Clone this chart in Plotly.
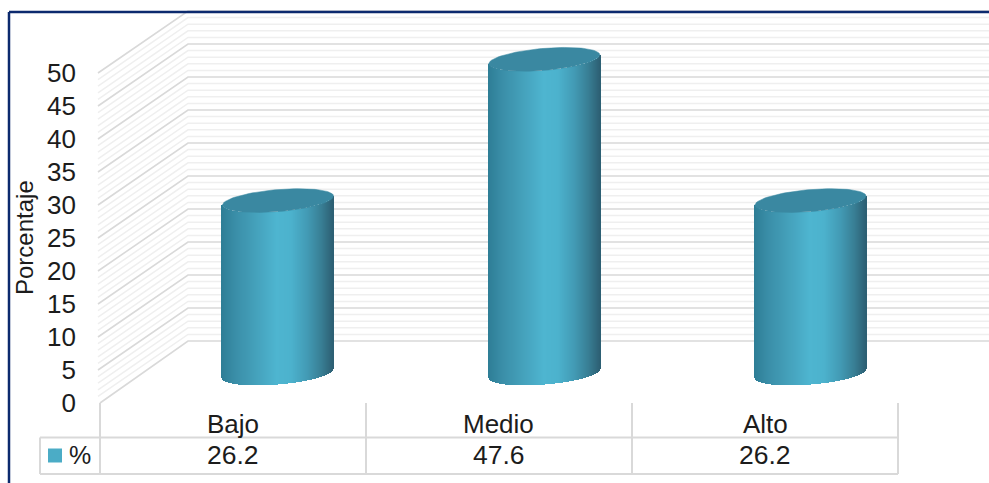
import numpy as np
import plotly.graph_objects as go

categories = ["Bajo", "Medio", "Alto"]
values = [26.2, 47.6, 26.2]
value_labels = ["26.2", "47.6", "26.2"]
series_name = "%"
y_ticks = [0, 5, 10, 15, 20, 25, 30, 35, 40, 45, 50]
minor_grid = list(range(0, 51))
axis_title = "Porcentaje"

W, H = 989, 483
PX_PER_UNIT = 6.6
Y0_PX = 403
X0_PX = 232.5
STEP_PX = 266.25
FONT = "Liberation Sans"
TEXT = "#1c1c1c"
GRID_MAJOR = "#d9d9d9"
GRID_MINOR = "#efefef"
TABLE = "#d9d9d9"

def dx(px):
    return (px - X0_PX) / STEP_PX

def dy(px):
    return (Y0_PX - px) / PX_PER_UNIT

fig = go.Figure()

# 3D walls: side wall diagonal + back wall horizontal for each gridline (minors first)
depth_x, depth_y = 90, 62
for v in sorted(minor_grid, key=lambda m: m in y_ticks):
    major = v in y_ticks
    back = v + depth_y / PX_PER_UNIT
    fig.add_trace(go.Scatter(
        x=[dx(98 if v else 100), dx(100 + depth_x - 2), dx(W + 2)],
        y=[v, back, back],
        mode="lines",
        line=dict(color=GRID_MAJOR if major else GRID_MINOR, width=1.6 if major else 1.5),
        hoverinfo="skip", showlegend=False,
    ))

# Cylinders (on an overlaying axis pair so that they sit above the wall lines)
A_PX, B_PX, TILT_PX = 55.5, 11, 4.5
OFFSET_PX = 45.5
FLOOR = 4.47
stops = [(-1.0, (46, 126, 150)), (-0.75, (58, 142, 168)), (-0.4, (68, 160, 186)), (0.0, (78, 181, 208)),
         (0.25, (76, 178, 205)), (0.55, (66, 154, 180)), (0.8, (56, 126, 148)), (1.0, (45, 96, 116))]

def shade(u):
    pos = [s[0] for s in stops]
    rgb = [np.interp(u, pos, [s[1][k] for s in stops]) for k in range(3)]
    return "rgb(%d,%d,%d)" % tuple(int(round(c)) for c in rgb)

us = np.linspace(-1, 1, 112)
strip = 1.4 / STEP_PX
bx, by, bb, bc = [], [], [], []
for i, val in enumerate(values):
    cx = i + OFFSET_PX / STEP_PX
    for u in us:
        bx.append(cx + u * A_PX / STEP_PX)
        by.append(val)
        bb.append(FLOOR - (B_PX * np.sqrt(1 - u * u) - TILT_PX * u) / PX_PER_UNIT)
        bc.append(shade(u))
fig.add_trace(go.Bar(x=bx, y=by, base=bb, width=strip, marker=dict(color=bc, line=dict(width=0)),
                     xaxis="x2", yaxis="y2", hoverinfo="skip", showlegend=False))

t = np.linspace(0, 2 * np.pi, 90)
for i, val in enumerate(values):
    cx = i + OFFSET_PX / STEP_PX
    fig.add_trace(go.Scatter(
        x=cx + A_PX * np.cos(t) / STEP_PX,
        y=FLOOR + val + (TILT_PX * np.cos(t) + B_PX * np.sin(t)) / PX_PER_UNIT,
        mode="lines", fill="toself", fillcolor="#3a88a1",
        line=dict(color="#3a88a1", width=0.5),
        xaxis="x2", yaxis="y2", hoverinfo="skip", showlegend=False,
    ))

# Data table rules
def rule(x0, y0, x1, y1):
    fig.add_shape(type="line", xref="paper", yref="paper",
                  x0=x0 / W, x1=x1 / W, y0=1 - y0 / H, y1=1 - y1 / H,
                  line=dict(color=TABLE, width=2))

table_top, table_bot = 437.5, 474
rule(40, table_top, 898, table_top)
rule(40, table_bot, 898, table_bot)
rule(40, table_top, 40, table_bot)
for i in range(len(categories) + 1):
    xp = 100 + i * (898 - 100) / len(categories)
    rule(xp, 403, xp, table_bot)

# Outer frame (left and top only are visible)
for (x0, y0, x1, y1) in [(9, 12, 9, H), (9, 12, W, 12)]:
    fig.add_shape(type="line", xref="paper", yref="paper",
                  x0=x0 / W, x1=x1 / W, y0=1 - y0 / H, y1=1 - y1 / H,
                  line=dict(color="#0c2a6e", width=2.5))

# Table text
for i, cat in enumerate(categories):
    fig.add_annotation(x=i, y=dy(424), text=cat, showarrow=False,
                       font=dict(family=FONT, size=26, color=TEXT))
    fig.add_annotation(x=i, y=dy(455), text=value_labels[i], showarrow=False,
                       font=dict(family=FONT, size=26.5, color=TEXT))
fig.add_annotation(x=dx(80), y=dy(455), text=series_name, showarrow=False,
                   font=dict(family=FONT, size=25, color=TEXT))
fig.add_annotation(x=dx(24), y=dy(238), text=axis_title, textangle=-90, showarrow=False,
                   font=dict(family=FONT, size=24, color=TEXT))
fig.add_trace(go.Scatter(x=[dx(55)], y=[dy(455.5)], mode="markers",
                         marker=dict(symbol="square", size=14, color="#4bacc6"),
                         hoverinfo="skip", showlegend=False))

x_range = [dx(0), dx(W)]
y_range = [dy(H), dy(0)]
fig.update_layout(
    width=W, height=H, margin=dict(l=0, r=0, t=0, b=0),
    paper_bgcolor="white", plot_bgcolor="white", barmode="overlay", bargap=0,
    xaxis=dict(range=x_range, visible=False, domain=[0, 1], fixedrange=True),
    yaxis=dict(range=y_range, tickvals=y_ticks, showgrid=False, zeroline=False,
               anchor="free", position=76 / W, ticks="", showline=False,
               tickfont=dict(family=FONT, size=26, color=TEXT),
               fixedrange=True),
    xaxis2=dict(range=x_range, visible=False, overlaying="x", fixedrange=True),
    yaxis2=dict(range=y_range, visible=False, overlaying="y", fixedrange=True),
    showlegend=False,
)

fig.write_html("out.html", post_script="document.body.style.margin='0';",
               config=dict(displayModeBar=False))
